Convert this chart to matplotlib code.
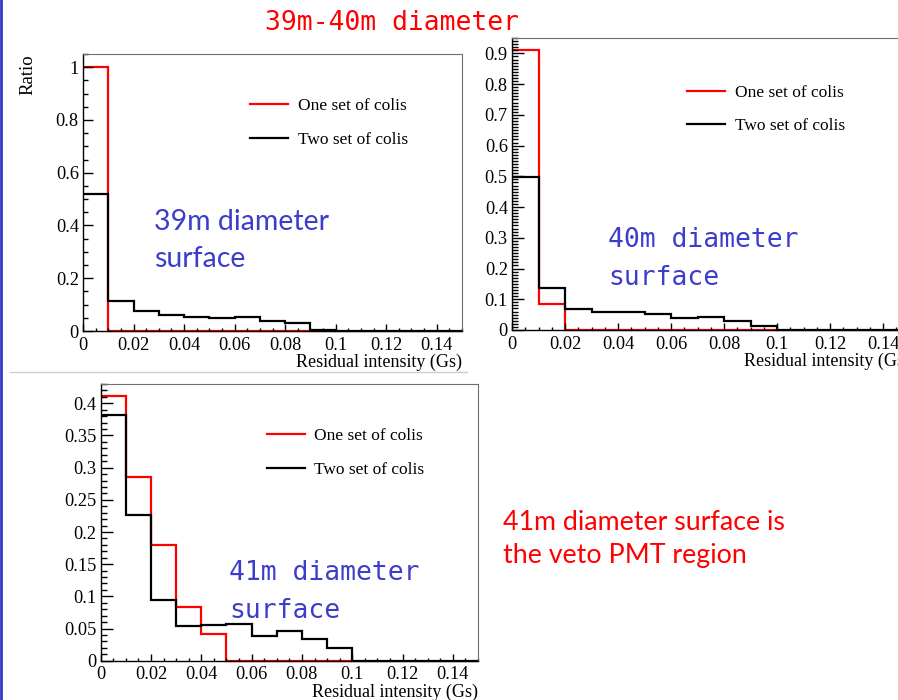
import matplotlib
matplotlib.use('Agg')
import matplotlib.pyplot as plt
from matplotlib.lines import Line2D
from matplotlib.ticker import MultipleLocator, FuncFormatter
import numpy as np

plt.rcParams['font.family'] = ['Liberation Serif']

# 数据：残余磁场强度直方图（bin 宽 0.01 Gs）
edges_one = np.arange(0, 0.1001, 0.01)
edges_two = np.arange(0, 0.1501, 0.01)

one_39 = [1.0, 0, 0, 0, 0, 0, 0, 0, 0, 0]
two_39 = [0.52, 0.114, 0.076, 0.062, 0.054, 0.049, 0.052, 0.037, 0.030, 0.004,
          0, 0, 0, 0, 0]

one_40 = [0.91, 0.084, 0, 0, 0, 0, 0, 0, 0, 0]
two_40 = [0.498, 0.138, 0.067, 0.057, 0.057, 0.051, 0.038, 0.043, 0.030, 0.014,
          0, 0, 0, 0, 0]

one_41 = [0.411, 0.285, 0.180, 0.084, 0.042, 0, 0, 0, 0, 0]
two_41 = [0.382, 0.226, 0.094, 0.054, 0.055, 0.057, 0.039, 0.046, 0.034, 0.020,
          0, 0, 0, 0, 0]

W, H = 898, 700
fig = plt.figure(figsize=(W / 100, H / 100), dpi=100)


def px_axes(left, top, right, bottom):
    return fig.add_axes([left / W, 1 - bottom / H, (right - left) / W, (bottom - top) / H])


def draw_hist(ax, one, two, ymax, ymajor, yminor, ylen):
    # baseline=None：两端不画竖线，和 ROOT 的直方图一致
    ax.stairs(one, edges_one, color='#ff0000', lw=1.6, baseline=None, clip_on=False,
              label='One set of colis')
    ax.stairs(two, edges_two, color='black', lw=1.6, baseline=None, clip_on=False,
              label='Two set of colis')
    ax.set_xlim(0, 0.15)
    ax.set_ylim(0, ymax)
    ax.xaxis.set_major_locator(MultipleLocator(0.02))
    ax.xaxis.set_minor_locator(MultipleLocator(0.005))
    ax.yaxis.set_major_locator(MultipleLocator(ymajor))
    ax.yaxis.set_minor_locator(MultipleLocator(yminor))
    fmt = FuncFormatter(lambda v, p: '%g' % round(v, 4))
    ax.xaxis.set_major_formatter(fmt)
    ax.yaxis.set_major_formatter(fmt)
    ax.tick_params(axis='both', which='both', direction='in', top=False, right=False,
                   labelsize=13.2, width=1)
    ax.tick_params(axis='x', which='major', length=5, pad=4)
    ax.tick_params(axis='x', which='minor', length=2.5)
    ax.tick_params(axis='y', which='major', length=ylen, pad=3)
    ax.tick_params(axis='y', which='minor', length=ylen / 2)
    for s in ['top', 'right']:
        ax.spines[s].set_color('#707070')
        ax.spines[s].set_linewidth(0.8)
    for s in ['left', 'bottom']:
        ax.spines[s].set_color('black')
        ax.spines[s].set_linewidth(1)
    ax.set_xlabel('Residual intensity (Gs)', loc='right', fontsize=13, labelpad=0)
    ax.legend(loc='upper left', bbox_to_anchor=(0.44, 0.84), frameon=False,
              fontsize=12.5, handlelength=2.2, handletextpad=0.55, labelspacing=1.0,
              borderpad=0, borderaxespad=0)


# 39m
ax1 = px_axes(83, 54, 462, 331)
draw_hist(ax1, one_39, two_39, 1.05, 0.2, 0.05, 7)
ax1.set_ylabel('Ratio', loc='top', fontsize=13.5, labelpad=14)

# 40m（右侧被截断）
ax2 = px_axes(512, 38, 909.5, 330)
draw_hist(ax2, one_40, two_40, 0.95, 0.1, 0.01, 8.5)

# 41m
ax3 = px_axes(100.7, 384, 478, 660.7)
draw_hist(ax3, one_41, two_41, 0.43, 0.05, 0.01, 8.5)

blue = '#3d3dcc'
mono = ['DejaVu Sans Mono']
sans = ['Lato', 'DejaVu Sans']


def ftext(x, y, lines, step, **kw):
    # 每行单独放置，y 为首行基线（像素）
    for i, s in enumerate(lines):
        fig.text(x / W, 1 - (y + i * step) / H, s, va='baseline', ha='left', **kw)


ftext(265, 30, ['39m-40m diameter'], 0, color='#ff0000', fontsize=19, family=mono)
ftext(154, 230, ['39m diameter', 'surface'], 37, color=blue, fontsize=20.5, family=sans)
ftext(608, 247, ['40m diameter', 'surface'], 38, color=blue, fontsize=19, family=mono)
ftext(229, 580, ['41m diameter', 'surface'], 38, color=blue, fontsize=19, family=mono)
ftext(503, 530, ['41m diameter surface is', 'the veto PMT region'], 33,
      color='#ff0000', fontsize=19.3, family=sans)

# 页面装饰：左侧蓝色边线与分隔线
fig.add_artist(Line2D([0.001, 0.001], [0, 1], color='#3333cc', lw=2))
fig.add_artist(Line2D([10 / W, 467 / W], [1 - 372 / H, 1 - 372 / H], color='#cccccc', lw=1))

fig.savefig('out.png', dpi=100)
